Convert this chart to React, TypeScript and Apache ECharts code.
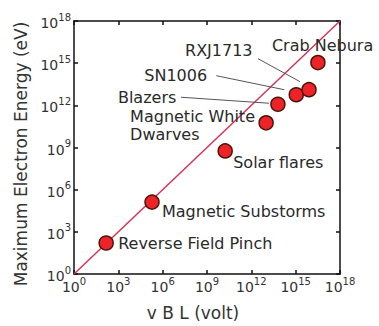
import React, { useEffect, useRef } from "react";
import * as echarts from "echarts";

// Data
const sources = [
  "Reverse Field Pinch",
  "Magnetic Substorms",
  "Solar flares",
  "Magnetic White\nDwarves",
  "Blazers",
  "SN1006",
  "RXJ1713",
  "Crab Nebura",
];
const vBL = [1.5e2, 1.9e5, 1.7e10, 1.0e13, 6.3e13, 1.1e15, 8.0e15, 3.2e16];
const maxEnergy = [1.6e2, 1.3e5, 5.7e8, 5.7e10, 1.2e12, 5.7e12, 1.3e13, 1.1e15];
const diagonalX = [1, 1e18];
const diagonalY = [1, 1e18];

// Label placement (style only, relative to each point's pixel position)
const labelPlacement = [
  { dx: 12, dy: 0 },
  { dx: 10, dy: 9 },
  { dx: 8, dy: 12 },
  { dx: -136, dy: 3 },
  { dx: -160, dy: -7, leader: [-97, -7, -9, -1] },
  { dx: -152, dy: -19, leader: [-80, -19, -12, -5] },
  { dx: -124, dy: -39, leader: [-51, -31, -9, -8] },
  { dx: -46, dy: -17 },
];

const FONT = '"DejaVu Sans", sans-serif';

const tickFormatter = (v: number) => {
  const e = Math.round(Math.log10(v));
  return `{b|10}{s|${e}}`;
};

const richLabel = {
  b: { fontSize: 14, fontFamily: FONT, color: "#333", lineHeight: 18, verticalAlign: "bottom" },
  s: { fontSize: 10, fontFamily: FONT, color: "#333", lineHeight: 10, verticalAlign: "top" },
};

export default function App() {
  const ref = useRef<HTMLDivElement>(null);
  useEffect(() => {
    if (!ref.current) return;
    const chart = echarts.init(ref.current, null, { renderer: "svg" });
    const axisLine = { show: true, lineStyle: { color: "#111", width: 1.5 } };
    const axisTick = { show: true, inside: true, length: 4, lineStyle: { color: "#111", width: 1.5 } };
    const logCommon = {
      type: "log" as const,
      logBase: 10,
      min: 1,
      max: 1e18,
      interval: 3,
      splitLine: { show: false },
      minorTick: { show: false },
      axisLine,
      axisTick,
    };
    const points = vBL.map((x, i) => [x, maxEnergy[i]]);
    chart.setOption({
      animation: false,
      backgroundColor: "#ffffff",
      grid: { left: 74, top: 21, width: 266, height: 261, containLabel: false },
      xAxis: [
        {
          ...logCommon,
          position: "bottom",
          name: "v B L (volt)",
          nameLocation: "middle",
          nameGap: 30,
          nameTextStyle: { fontSize: 17, fontFamily: FONT, color: "#333", padding: [0, 28, 0, 0] },
          axisLabel: { formatter: tickFormatter, rich: richLabel, margin: 2 },
        },
        { ...logCommon, position: "top", axisLabel: { show: false } },
      ],
      yAxis: [
        {
          ...logCommon,
          position: "left",
          name: "Maximum Electron Energy (eV)",
          nameLocation: "middle",
          nameGap: 41,
          nameTextStyle: { fontSize: 17, fontFamily: FONT, color: "#333", padding: [0, 13, 0, 0] },
          axisLabel: { formatter: tickFormatter, rich: richLabel, margin: 3 },
        },
        { ...logCommon, position: "right", axisLabel: { show: false } },
      ],
      series: [
        {
          type: "line",
          data: diagonalX.map((x, i) => [x, diagonalY[i]]),
          symbol: "none",
          lineStyle: { color: "#d3345a", width: 1.5 },
          z: 1,
          silent: true,
        },
        {
          type: "scatter",
          data: points,
          symbolSize: 14,
          itemStyle: { color: "#ee2328", borderColor: "#4a160c", borderWidth: 1.5, opacity: 1 },
          z: 3,
        },
      ],
    });

    const graphics: any[] = [];
    points.forEach((p, i) => {
      const px = chart.convertToPixel({ xAxisIndex: 0, yAxisIndex: 0 }, p) as number[];
      const pl = labelPlacement[i];
      graphics.push({
        type: "text",
        x: px[0] + pl.dx,
        y: px[1] + pl.dy,
        z: 10,
        style: {
          text: sources[i],
          fontSize: 16,
          fontFamily: FONT,
          fill: "#2a2a2a",
          align: "left",
          verticalAlign: "middle",
          lineHeight: 18,
        },
      });
      if (pl.leader) {
        graphics.push({
          type: "line",
          z: 9,
          shape: {
            x1: px[0] + pl.leader[0],
            y1: px[1] + pl.leader[1],
            x2: px[0] + pl.leader[2],
            y2: px[1] + pl.leader[3],
          },
          style: { stroke: "#555", lineWidth: 1 },
        });
      }
    });
    chart.setOption({ graphic: graphics });

    return () => chart.dispose();
  }, []);
  return (
    <div
      ref={ref}
      style={{ position: "absolute", left: 0, top: 0, width: 379, height: 326, background: "#fff" }}
    />
  );
}
